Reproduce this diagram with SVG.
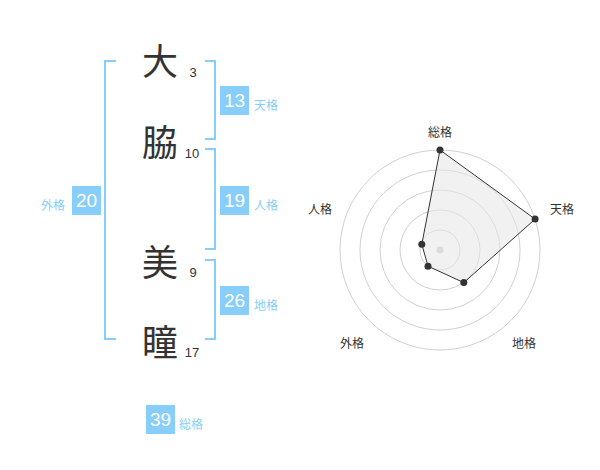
<svg xmlns="http://www.w3.org/2000/svg" width="600" height="470" viewBox="0 0 600 470">
<style>
.kanji{font-family:"Noto Sans CJK JP","Noto Sans CJK SC",sans-serif;font-size:36px;fill:#333;text-anchor:middle;dominant-baseline:central}
.num{font-family:"Liberation Sans",Arial,sans-serif;font-size:13px;fill:#333;text-anchor:middle}
.br{fill:none;stroke:#87cefa;stroke-width:2}
.box{fill:#87cefa}
.bt{font-family:"Liberation Sans",Arial,sans-serif;font-size:19px;fill:#fff;text-anchor:middle;dominant-baseline:central}
.lb{font-family:"Noto Sans CJK JP","Noto Sans CJK SC",sans-serif;font-size:12px;fill:#87cefa;dominant-baseline:central}
.rl{font-family:"Noto Sans CJK JP","Noto Sans CJK SC",sans-serif;font-size:12px;fill:#333;text-anchor:middle;dominant-baseline:central}
.ring{fill:none;stroke:#d0d0d0;stroke-width:1}
.pt{fill:#333}
</style>
<rect width="600" height="470" fill="#fff"/>
<g id="connectors">
<path class="br" d="M116,61 H105 V339 H116"/>
<path class="br" d="M205,61 H215 V139 H205"/>
<path class="br" d="M205,149 H215 V249 H205"/>
<path class="br" d="M205,260 H215 V339 H205"/>
</g>
<g id="char1"><text class="kanji" x="160" y="59">大</text><text class="num" x="193" y="77">3</text></g>
<g id="char2"><text class="kanji" x="160" y="140">脇</text><text class="num" x="192" y="158">10</text></g>
<g id="char3"><text class="kanji" x="160" y="260">美</text><text class="num" x="193" y="277">9</text></g>
<g id="char4"><text class="kanji" x="160" y="340">瞳</text><text class="num" x="192" y="357">17</text></g>
<g id="tenkaku"><rect class="box" x="220" y="86" width="29" height="29"/><text class="bt" x="234.5" y="100.5">13</text><text class="lb" x="254" y="104">天格</text></g>
<g id="jinkaku"><rect class="box" x="220" y="186" width="29" height="29"/><text class="bt" x="234.5" y="200.5">19</text><text class="lb" x="254" y="204">人格</text></g>
<g id="chikaku"><rect class="box" x="220" y="286" width="29" height="29"/><text class="bt" x="234.5" y="300.5">26</text><text class="lb" x="254" y="304">地格</text></g>
<g id="gaikaku"><rect class="box" x="72" y="186" width="29" height="29"/><text class="bt" x="86.5" y="200.5">20</text><text class="lb" x="41" y="204">外格</text></g>
<g id="soukaku"><rect class="box" x="146" y="405" width="29" height="29"/><text class="bt" x="160.5" y="419.5">39</text><text class="lb" x="179" y="423">総格</text></g>
<g id="radar">
<circle class="ring" cx="440" cy="250" r="20"/>
<circle class="ring" cx="440" cy="250" r="40"/>
<circle class="ring" cx="440" cy="250" r="60"/>
<circle class="ring" cx="440" cy="250" r="80"/>
<circle class="ring" cx="440" cy="250" r="100"/>
<circle cx="440" cy="250" r="3.5" fill="#c8c8c8"/>
<polygon points="440,150 535.1,219.1 463.8,282.6 428,266.2 421.8,244.3" fill="#e8e8e8" fill-opacity="0.6" stroke="#333" stroke-width="1"/>
<circle class="pt" cx="440" cy="150" r="3.5"/>
<circle class="pt" cx="535.1" cy="219.1" r="3.5"/>
<circle class="pt" cx="463.8" cy="282.6" r="3.5"/>
<circle class="pt" cx="428" cy="266.2" r="3.5"/>
<circle class="pt" cx="421.8" cy="244.3" r="3.5"/>
<text class="rl" x="440" y="131">総格</text>
<text class="rl" x="562" y="208">天格</text>
<text class="rl" x="524" y="342">地格</text>
<text class="rl" x="352" y="342">外格</text>
<text class="rl" x="320" y="208">人格</text>
</g>
</svg>
